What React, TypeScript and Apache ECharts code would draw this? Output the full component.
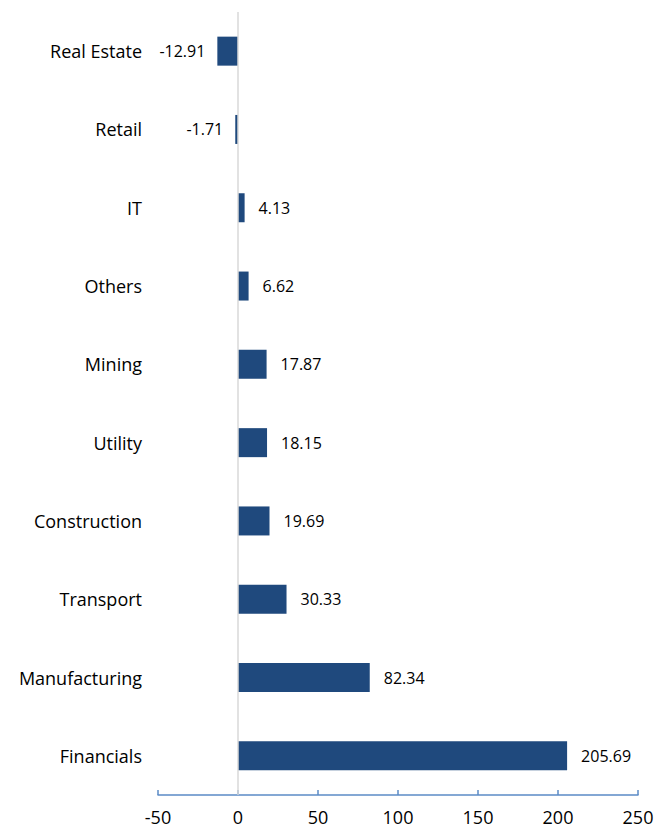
import React, { useEffect, useRef } from "react";
import * as echarts from "echarts";

const categories = ["Real Estate", "Retail", "IT", "Others", "Mining", "Utility", "Construction", "Transport", "Manufacturing", "Financials"];
const values = [-12.91, -1.71, 4.13, 6.62, 17.87, 18.15, 19.69, 30.33, 82.34, 205.69];
const xMin = -50;
const xMax = 250;
const xInterval = 50;

const FONT = "'Open Sans', 'Noto Sans', sans-serif";

export default function App() {
  const ref = useRef<HTMLDivElement>(null);
  useEffect(() => {
    if (!ref.current) return;
    const chart = echarts.init(ref.current, undefined, { renderer: "svg" });
    chart.setOption({
      animation: false,
      backgroundColor: "#ffffff",
      grid: { left: 158, right: 30, top: 12, bottom: 37, containLabel: false },
      xAxis: {
        type: "value",
        min: xMin,
        max: xMax,
        interval: xInterval,
        axisLine: { show: true, onZero: false, lineStyle: { color: "#5B8BC6", width: 1.5 } },
        axisTick: { show: true, inside: true, length: 5, lineStyle: { color: "#5B8BC6", width: 1.5 } },
        splitLine: { show: false },
        axisLabel: { color: "#000", fontSize: 18, fontFamily: FONT, margin: 13 },
      },
      yAxis: {
        type: "category",
        data: categories,
        inverse: true,
        axisLine: { show: false },
        axisTick: { show: false },
        axisLabel: { color: "#000", fontSize: 18, fontFamily: FONT, margin: 16 },
      },
      series: [
        {
          type: "bar",
          barWidth: 29,
          itemStyle: { color: "#1F497D" },
          data: values.map((v) => ({
            value: v,
            label: {
              show: true,
              position: v < 0 ? "left" : "right",
              distance: v < 0 ? 12 : 14,
              color: "#000",
              fontSize: 16,
              fontFamily: FONT,
            },
          })),
          markLine: {
            silent: true,
            symbol: ["none", "none"],
            label: { show: false },
            lineStyle: { color: "#D9D9D9", width: 1.5, type: "solid" },
            data: [{ xAxis: 0 }],
          },
        },
      ],
    });
    return () => chart.dispose();
  }, []);
  return <div ref={ref} style={{ position: "fixed", left: 0, top: 0, width: 668, height: 832 }} />;
}
